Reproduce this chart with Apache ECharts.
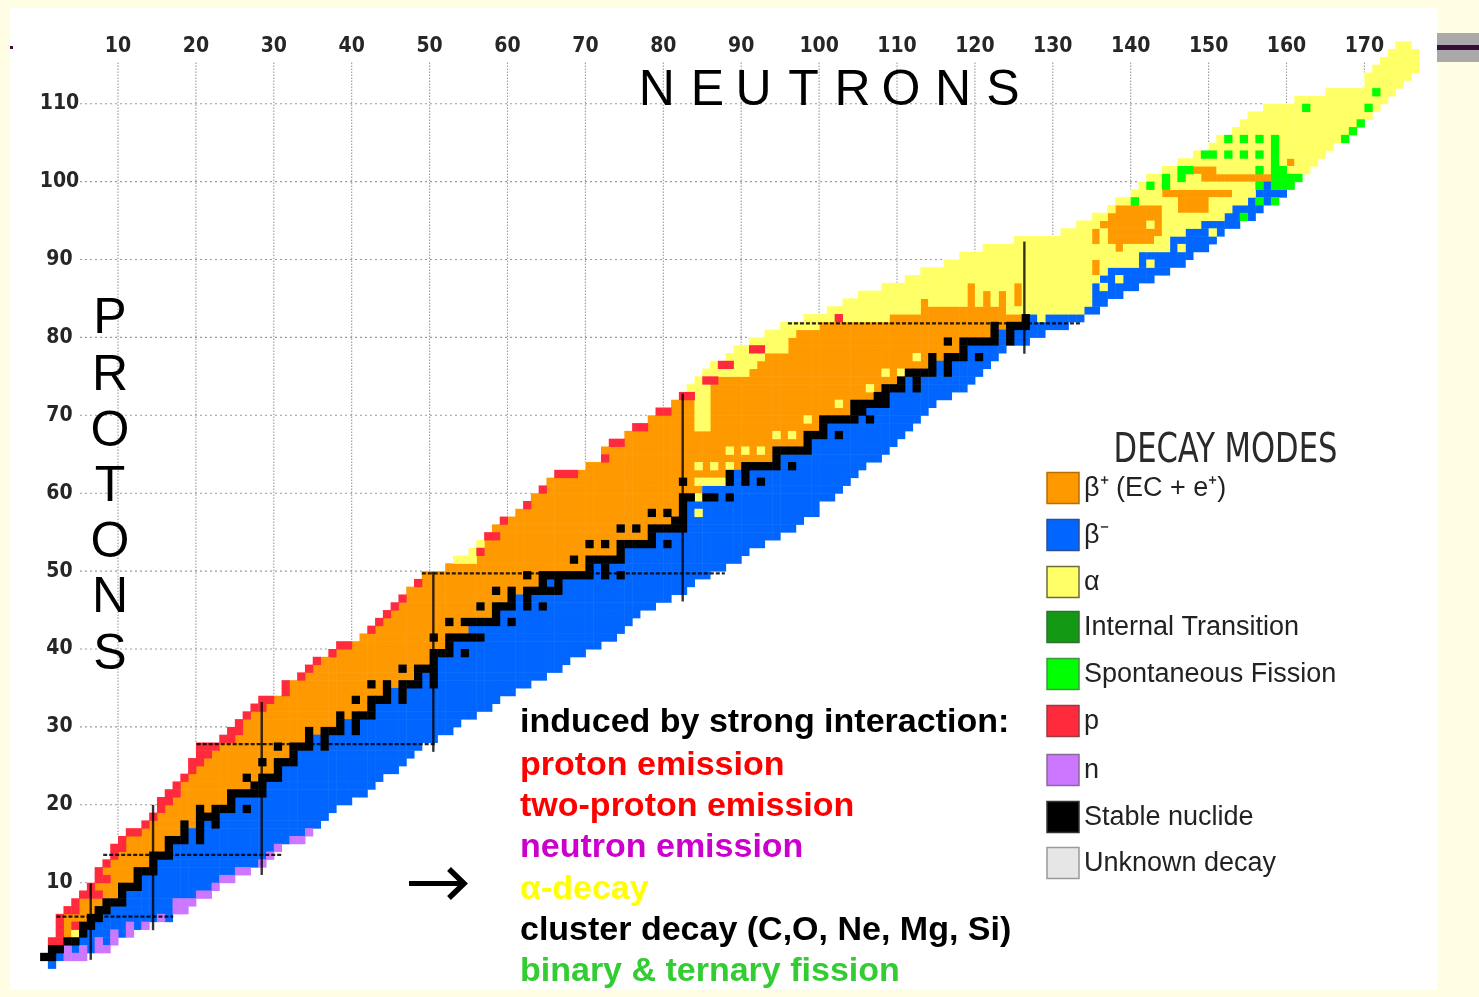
<!DOCTYPE html>
<html><head><meta charset="utf-8">
<script src="https://cdn.jsdelivr.net/npm/echarts@6/dist/echarts.min.js"></script>
<style>html,body{margin:0;padding:0;background:#fff}#c{width:1479px;height:997px}</style>
</head><body><div id="c"></div>
<script>
// ---------- DATA ----------
// one entry per proton number Z = 0..118 : first neutron number of the row
const rowStart = [1,0,1,1,2,2,2,3,4,5,6,7,7,8,9,9,10,11,13,14,15,15,16,17,18,19,19,20,20,23,
 24,25,26,27,28,31,31,33,34,35,37,38,41,42,43,44,45,46,47,48,49,52,53,55,56,57,58,59,61,62,
 63,64,65,66,70,72,72,73,75,76,78,79,81,82,83,84,85,86,88,89,91,93,95,98,101,103,105,108,111,113,
 116,118,121,125,131,133,135,137,138,140,141,142,144,146,148,150,151,153,154,155,157,161,165,170,170,171,172,173,174];
// decay-mode runs along each row (o=β+, b=β-, a=α, f=SF, g=IT, r=p, n=n, k=stable, u=unknown)
const rowRuns = [
 "b1","k2 b1 n3","k2 n1 b1 n1 b1 n2","r2 k2 b2 n1 b1 n1","r1 o1 a1 k1 b3 n1 b1 n1",
 "r1 o1 r1 k2 b4 n1 b1 n1","r1 o3 k2 b7 n1 b1","r2 o2 k2 b8 n2","r1 o3 k3 b6 n3","r3 o2 k1 b9 n2",
 "r1 o3 k3 b9 n1","r2 o3 k1 b10 n2","r1 o4 k3 b10 n2","r1 o5 k1 b13 n1","r1 o4 k3 b12 n1",
 "r2 o5 k1 b13 n1","r1 o5 k3 b1 k1 b11 n2","r2 o5 k1 b1 k1 b13 n1","r1 o4 k1 o1 k1 b1 k1 b13","r1 o5 k3 b14",
 "r1 o4 k1 o1 k3 b1 k1 b11","r2 o7 k1 b15","r2 o6 k5 b13","r1 o9 k2 b14","r1 o7 k1 o1 k3 b13",
 "r1 o10 k1 b15","r2 o7 k1 o1 k3 b14","r2 o10 k1 b15","r3 o7 k1 o1 k3 b1 k1 b12","r2 o9 k1 b1 k1 b14",
 "r2 o8 k1 o1 k3 b1 k1 b12","r1 o12 k1 b1 k1 b13","r1 o11 k1 o1 k3 b13","r2 o13 k1 b15","r2 o10 k1 o1 k3 b1 k1 b12",
 "r1 o12 k1 b1 k1 b14","r1 o10 k1 o1 k1 o1 k3 b1 k1 b12","r1 o14 k1 b1 k1 b14","r1 o11 k1 o1 k3 b16","r1 o14 k1 b17",
 "r1 o12 k3 b1 k1 b15","r2 o12 k1 b19","o9 k1 o1 k5 b17","r1 o12 b20","r1 o8 k1 o1 k5 b1 k1 b15",
 "r1 o13 k1 b18","r1 o10 k1 o1 k3 b1 k1 b1 k1 b14","r1 o13 k1 b1 k1 b18","o11 k1 o1 k1 o1 k5 b16","r1 o15 k1 b1 k1 b17",
 "o13 k1 o1 k7 b1 k1 b1 k1 b11","o18 k1 b1 k1 b15","a3 o12 k1 o1 k5 b15","a1 r1 o17 k1 b16","a1 o13 k1 o1 k1 o1 k5 b1 k1 b12",
 "r2 o19 k1 b16","o16 k1 o1 k1 o1 k5 b14","r1 o21 k2 b15","o17 k1 o1 k1 o1 k1 b1 a1 b15","r1 o19 k1 b17",
 "o19 k2 a1 k2 b1 k1 b13","r1 o20 b18","o17 k1 o1 a4 k1 b1 k1 b1 k1 b11","r3 o19 k1 b1 k1 b14","o14 a1 o1 a1 o1 a1 o1 k5 b1 k1 b9",
 "r1 o21 k1 b13","o16 a1 o1 a1 o1 a1 o1 k5 b10","r2 o23 k1 b11","o19 a1 o1 a1 o1 k3 b1 k1 b8","r2 o22 k1 b11",
 "o20 a1 o1 k5 b1 k1 b6","r2 o23 k2 b8","o21 a1 o1 k5 b6","r2 a2 o21 k2 b8","a3 o22 k3 b1 k1 b6",
 "a1 r2 o23 k1 b1 k1 b7","a6 o17 a1 o1 k5 b1 k1 b4","a1 r2 a3 o22 k1 b1 k1 b5","a5 o19 a1 o1 k1 o1 k3 b1 k1 b2","a2 r2 a3 o22 k1 b5",
 "a5 o20 k1 o1 k5 b1 k1 b2","a4 o25 k1 b1 k1 b4","a5 o22 k1 o1 k3 b5","a4 r1 a6 o17 k1 b1 a1 b5","a12 o11 a10 b2",
 "a10 o1 a5 o1 a1 o1 a1 o1 a1 o1 a9 b2","a14 o1 a1 o1 a1 o1 a1 o1 a9 b4","a11 o1 a5 o1 a9 b6","a25 b7","a22 o1 a1 b8",
 "a19 o1 a5 b1 a1 b4","a23 b7","a17 o1 a6 b1 a1 b3","a10 o1 a1 o6 a2 b6","a4 o1 a1 o7 a3 b5",
 "a3 o8 a5 b5","a2 o7 a8 b4","a1 o6 a2 o4 a3 b4","a8 o4 a5 b4","a4 o9 a3 b4",
 "a16 b4","a7 o9 a4","a4 o3 a12","a14 o1 a3","a17",
 "a16","a16","a16","a16","a16","a15","a12","a9","a5","a6","a6","a5","a4","a2"
];
// isolated cells [N, Z]
const alphaDots = [[84,69],[85,69],[84,70],[85,70],[84,71],[85,71],[84,72],[85,72],[84,73],[85,73],
 [106,74],[108,76],[110,76],[112,78],[136,87],[138,88],[150,94],[142,95]];
const fissionDots = [[140,98],[142,100],[144,100],[144,101],[146,101],[146,102],[147,102],[149,104],[150,104],
 [152,104],[154,104],[156,104],[152,106],[154,106],[156,106],[158,100],[158,101],[158,102],[158,103],[158,104],
 [158,105],[158,106],[159,100],[159,101],[159,102],[160,100],[160,101],[161,101],[156,102],[156,100],[156,98],
 [158,98],[154,96],[162,110],[167,106],[168,107],[169,108],[170,110],[171,112]];
// magic-number lines as drawn: vertical [N, Zfrom, Zto], horizontal [Z, Nfrom, Nto]
const magicV = [[6.5,0.1,9.9],[14.5,3.9,20],[28.45,11.0,33.2],[50.48,26.8,49.9],[82.49,46.1,72.8],[126.35,77.9,92.3]];
const magicH = [[5.64,2.1,17.1],[13.56,8.1,31.0],[27.8,20.1,50.9],[49.7,49.0,87.9],[81.8,96.0,133.7]];
const xTicks = [10,20,30,40,50,60,70,80,90,100,110,120,130,140,150,160,170];
const yTicks = [10,20,30,40,50,60,70,80,90,100,110];
const modes = [
 {code:'o', name:'β⁺ (EC + e⁺)', color:'#ff9900', border:'#b86e00'},
 {code:'b', name:'β⁻', color:'#0066ff', border:'#2a4f9a'},
 {code:'a', name:'α', color:'#ffff66', border:'#6d6d3a'},
 {code:'g', name:'Internal Transition', color:'#149914', border:'#2f6f2f'},
 {code:'f', name:'Spontaneous Fission', color:'#00ff00', border:'#3f9a3f'},
 {code:'r', name:'p', color:'#ff2a3c', border:'#9a3a40'},
 {code:'n', name:'n', color:'#cc77ff', border:'#8a6a9a'},
 {code:'k', name:'Stable nuclide', color:'#000000', border:'#333333'},
 {code:'u', name:'Unknown decay', color:'#e6e6e6', border:'#9a9a9a'}
];
const textLines = [
 ['induced by strong interaction:', '#000000'],
 ['proton emission', '#ff0000'],
 ['two-proton emission', '#ff0000'],
 ['neutron emission', '#cc00cc'],
 ['α-decay', '#ffff00'],
 ['cluster decay (C,O, Ne, Mg, Si)', '#000000'],
 ['binary & ternary fission', '#33cc33']
];

// ---------- build cells ----------
const cellMap = new Map();
const rowEnd = [];
rowRuns.forEach((s, z) => {
  let n = rowStart[z];
  s.trim().split(/\s+/).forEach(tok => {
    const c = tok[0], k = parseInt(tok.slice(1), 10);
    for (let i = 0; i < k; i++) { cellMap.set(n + ',' + z, c); n++; }
  });
  rowEnd[z] = n - 1;
});
alphaDots.forEach(([n, z]) => cellMap.set(n + ',' + z, 'a'));
fissionDots.forEach(([n, z]) => cellMap.set(n + ',' + z, 'f'));
const byCode = {};
modes.forEach(m => byCode[m.code] = []);
const colTop = {};
cellMap.forEach((c, key) => {
  const [n, z] = key.split(',').map(Number);
  byCode[c].push([n, z]);
  colTop[n] = Math.max(colTop[n] === undefined ? -1 : colTop[n], z);
});

// clipped dotted grid (stops where the band starts)
const gridSegs = [];
xTicks.forEach(N => {
  const top = Math.max(colTop[N] ?? -1, colTop[N - 1] ?? -1);
  if (top < 115.3) gridSegs.push([N, 115.3, N, top, 0]);
});
yTicks.forEach(Z => {
  const end = Math.min(rowStart[Z], rowStart[Z + 1] ?? 999);
  if (end > 5.12) gridSegs.push([5.12, Z, end, Z, 1]);
});
const magicSegs = [];
magicV.forEach(([x, a, b]) => magicSegs.push([x, a, x, b, 0]));
magicH.forEach(([y, a, b]) => magicSegs.push([a, y, b, y, 1]));

function cellRender(params, api) {
  const n = api.value(0), z = api.value(1);
  const p0 = api.coord([n, z]), p1 = api.coord([n + 1, z - 1]);
  return {type: 'rect', shape: {x: p0[0], y: p0[1], width: p1[0] - p0[0] + 0.5, height: p1[1] - p0[1] + 0.5},
    style: {fill: api.visual('color')}};
}
function lineRender(kind) {
  return function (params, api) {
    const a = api.coord([api.value(0), api.value(1)]), b = api.coord([api.value(2), api.value(3)]);
    const flag = api.value(4);
    let style;
    if (kind === 'grid') style = {stroke: '#9a9a9a', lineWidth: 1.1, lineDash: flag ? [2, 3] : [1.5, 1.5]};
    else style = flag ? {stroke: 'rgba(0,0,0,0.85)', lineWidth: 2.2, lineDash: [4, 2]} : {stroke: 'rgba(0,0,0,0.8)', lineWidth: 2.4};
    return {type: 'line', shape: {x1: a[0], y1: a[1], x2: b[0], y2: b[1]}, style};
  };
}

const series = [
  {type: 'custom', name: 'grid', z: 1, silent: true, clip: false, renderItem: lineRender('grid'), data: gridSegs}
];
modes.forEach(m => series.push({type: 'custom', name: m.name, z: 2, silent: true, clip: false,
  itemStyle: {color: m.color}, renderItem: cellRender, data: byCode[m.code]}));
series.push({type: 'custom', name: 'magic', z: 3, silent: true, clip: false, renderItem: lineRender('magic'), data: magicSegs});

// ---------- decorations ----------
const g = [];
const pale = '#fffde3';
g.push({type: 'rect', shape: {x: 0, y: 0, width: 1479, height: 8}, style: {fill: pale}, z: 50});
g.push({type: 'rect', shape: {x: 0, y: 0, width: 10, height: 997}, style: {fill: pale}, z: 50});
g.push({type: 'rect', shape: {x: 0, y: 990, width: 1479, height: 7}, style: {fill: pale}, z: 50});
g.push({type: 'rect', shape: {x: 1437, y: 0, width: 42, height: 997}, style: {fill: pale}, z: 50});
g.push({type: 'rect', shape: {x: 1437, y: 33, width: 42, height: 29}, style: {fill: '#a9a9a9'}, z: 51});
g.push({type: 'rect', shape: {x: 1437, y: 45, width: 42, height: 5}, style: {fill: '#3b0b3b'}, z: 52});
g.push({type: 'rect', shape: {x: 10, y: 46, width: 3, height: 3}, style: {fill: '#3b0b3b'}, z: 52});

const neutX = [656.7, 707.5, 753.5, 803.5, 852.5, 901, 953, 1003];
'NEUTRONS'.split('').forEach((ch, i) => g.push({type: 'text', x: neutX[i], y: 91, z: 60,
  style: {text: ch, font: '50px "Liberation Sans", Arial, sans-serif', fill: '#000', textAlign: 'center', align: 'center', textVerticalAlign: 'middle', verticalAlign: 'middle'}}));
const protY = [319, 376, 432, 487, 543, 598, 655];
'PROTONS'.split('').forEach((ch, i) => g.push({type: 'text', x: 110, y: protY[i], z: 60,
  style: {text: ch, font: '50px "Liberation Sans", Arial, sans-serif', fill: '#000', textAlign: 'center', align: 'center', textVerticalAlign: 'middle', verticalAlign: 'middle'}}));

g.push({type: 'text', x: 1225.5, y: 451, scaleX: 0.83, z: 60,
  style: {text: 'DECAY MODES', font: '41px "Liberation Sans Narrow", "DejaVu Sans Condensed", sans-serif', fill: '#2a2a2a',
    textAlign: 'center', align: 'center', textVerticalAlign: 'middle', verticalAlign: 'middle'}});
const legY = [488, 535, 582, 627, 674, 721, 770, 817, 863];
modes.forEach((m, i) => {
  g.push({type: 'rect', shape: {x: 1047, y: legY[i] - 15.5, width: 32, height: 31}, z: 60,
    style: {fill: m.color, stroke: m.border, lineWidth: 1.5}});
  g.push({type: 'text', x: 1084, y: legY[i] + 1, z: 60,
    style: {text: m.name, font: '27px "Liberation Sans", Arial, sans-serif', fill: '#222',
      textAlign: 'left', align: 'left', textVerticalAlign: 'middle', verticalAlign: 'middle'}});
});

const lineY = [723, 766, 807, 848, 890, 931, 972];
textLines.forEach(([t, c], i) => g.push({type: 'text', x: 520, y: lineY[i], z: 60,
  style: {text: t, font: 'bold 34px "Liberation Sans", Arial, sans-serif', fill: c,
    textAlign: 'left', align: 'left', textVerticalAlign: 'middle', verticalAlign: 'middle'}}));

g.push({type: 'polyline', z: 60, shape: {points: [[409, 883.5], [462, 883.5]]}, style: {stroke: '#000', lineWidth: 5, fill: null}});
g.push({type: 'polyline', z: 60, shape: {points: [[449, 869], [464, 883.5], [449, 898]]}, style: {stroke: '#000', lineWidth: 5.5, fill: null, lineJoin: 'miter'}});

const tickFont = {fontFamily: '"Liberation Sans Narrow", "DejaVu Sans Condensed", sans-serif', fontWeight: 'bold', fontSize: 21, color: '#262626'};
const option = {
  backgroundColor: '#ffffff',
  animation: false,
  grid: {left: 40.1, top: 25.8, width: 1402.2, height: 934.8},
  xAxis: {type: 'value', min: 0, max: 180, interval: 10, position: 'top',
    axisLine: {show: false}, axisTick: {show: false}, splitLine: {show: false},
    axisLabel: Object.assign({inside: true, margin: 21, verticalAlign: 'middle',
      formatter: v => xTicks.includes(v) ? String(v) : ''}, tickFont)},
  yAxis: {type: 'value', min: 0, max: 120, interval: 10,
    axisLine: {show: false}, axisTick: {show: false}, splitLine: {show: false},
    axisLabel: Object.assign({inside: true, margin: 19.4, align: 'center', verticalAlign: 'middle',
      formatter: v => yTicks.includes(v) ? String(v) : ''}, tickFont)},
  series: series,
  graphic: {elements: g}
};
const chart = echarts.init(document.getElementById('c'), null, {renderer: 'canvas'});
chart.setOption(option);
</script>
</body></html>
